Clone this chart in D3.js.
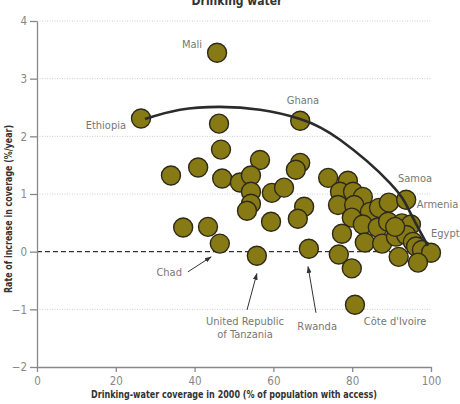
<!DOCTYPE html>
<html>
<head>
<meta charset="utf-8">
<script src="https://cdn.jsdelivr.net/npm/d3@7"></script>
<style>
  body { margin: 0; background: #fff; }
  svg text { font-family: "DejaVu Sans", sans-serif; font-stretch: condensed; }
</style>
</head>
<body>
<svg id="chart"></svg>
<script>
// coverage in 2000 (%) and rate of increase (%/year)
let coverage = [45.7, 26.4, 46.2, 46.7, 34.0, 40.9, 47.0, 46.4, 37.1, 43.4,
    56.6, 51.5, 54.3, 54.3, 54.3, 53.3, 59.4, 59.6, 62.7, 66.8,
    66.8, 65.7, 67.8, 66.2, 55.8, 69.0, 73.9, 78.9, 76.9, 80.2,
    82.7, 76.4, 80.5, 84.5, 86.8, 89.3, 93.7, 79.9, 82.7, 86.5,
    89.1, 92.6, 94.9, 77.4, 83.2, 87.6, 91.1, 93.7, 95.4, 96.2,
    97.7, 100.0, 91.8, 96.7, 76.6, 79.9, 80.7, 90.9];
let rateIncrease = [3.45, 2.31, 2.22, 1.77, 1.32, 1.46, 1.27, 0.14, 0.42, 0.43,
    1.59, 1.20, 1.32, 1.04, 0.83, 0.71, 0.52, 1.02, 1.11, 2.27,
    1.54, 1.42, 0.78, 0.57, -0.07, 0.05, 1.28, 1.23, 1.04, 1.04,
    0.95, 0.81, 0.81, 0.69, 0.76, 0.85, 0.90, 0.59, 0.47, 0.42,
    0.52, 0.49, 0.47, 0.31, 0.16, 0.14, 0.26, 0.29, 0.17, 0.09,
    0.03, -0.02, -0.09, -0.19, -0.05, -0.29, -0.92, 0.43];

// trend curve drawn over the points
let trendX = [27.4, 36.3, 46.4, 56.6, 66.8, 76.9, 89.6, 94.7, 99.2];
let trendY = [2.30, 2.46, 2.51, 2.46, 2.30, 1.94, 1.19, 0.68, 0.10];

let xTicks = [0, 20, 40, 60, 80, 100];
let yTicks = [-2, -1, 0, 1, 2, 3, 4];
let gridTicks = [-1, 1, 2, 3, 4];

// country labels: [text, x, y, anchor]
let labels = [
    ["Mali", 41.9, 3.54, "end"],
    ["Ethiopia", 22.6, 2.13, "end"],
    ["Ghana", 67.5, 2.56, "middle"],
    ["Samoa", 91.6, 1.20, "start"],
    ["Armenia", 96.4, 0.76, "start"],
    ["Egypt", 100.0, 0.26, "start"],
    ["Chad", 36.8, -0.43, "end"],
    ["United Republic", 52.8, -1.28, "middle"],
    ["of Tanzania", 52.8, -1.49, "middle"],
    ["Rwanda", 71.1, -1.35, "middle"],
    ["Côte d'Ivoire", 90.9, -1.27, "middle"]
];
// arrows: from [x, y] to [x, y]
let arrows = [
    [[38.3, -0.35], [44.2, -0.09]],
    [[53.3, -1.01], [55.8, -0.38]],
    [[70.8, -1.06], [68.8, -0.26]]
];

function drawChart() {
    let w = 460, h = 404;
    let svg = d3.select("#chart").attr("width", w).attr("height", h);

    let x = d3.scaleLinear().domain([0, 100]).range([37, 431]);
    let y = d3.scaleLinear().domain([-2, 4]).range([367, 21]);

    svg.append("defs").append("marker")
        .attr("id", "arrow")
        .attr("viewBox", "0 0 10 10")
        .attr("refX", 9).attr("refY", 5)
        .attr("markerWidth", 7).attr("markerHeight", 7)
        .attr("orient", "auto")
        .append("path")
        .attr("d", "M0,1.5 L10,5 L0,8.5 Z")
        .attr("fill", "#333");

    // dotted grid
    svg.selectAll(".grid")
        .data(gridTicks)
        .enter().append("line")
        .attr("x1", x(0)).attr("x2", x(100))
        .attr("y1", d => y(d)).attr("y2", d => y(d))
        .attr("stroke", "#ccc")
        .attr("stroke-width", 1)
        .attr("stroke-dasharray", "1,1.5");

    // zero line
    svg.append("line")
        .attr("x1", x(0)).attr("x2", x(100))
        .attr("y1", y(0)).attr("y2", y(0))
        .attr("stroke", "#333")
        .attr("stroke-width", 1.3)
        .attr("stroke-dasharray", "5,3");

    // axes
    let fmt = d3.format("d");
    let yAxis = svg.append("g")
        .attr("transform", `translate(${x(0)},0)`)
        .call(d3.axisLeft(y).tickValues(yTicks).tickFormat(fmt)
            .tickSize(7).tickSizeOuter(0).tickPadding(3));
    let xAxis = svg.append("g")
        .attr("transform", `translate(0,${y(-2)})`)
        .call(d3.axisBottom(x).tickValues(xTicks).tickFormat(fmt)
            .tickSize(5).tickSizeOuter(0).tickPadding(5));
    [xAxis, yAxis].forEach(a => {
        a.selectAll("path, line").attr("stroke", "#888").attr("stroke-width", 1.3);
        a.selectAll("text").attr("fill", "#888").style("font-size", "11.5px");
        a.attr("font-family", null);
    });

    // points
    let points = coverage.map((c, i) => ({ c: c, r: rateIncrease[i] }));
    svg.selectAll("circle.pt")
        .data(points)
        .enter().append("circle")
        .attr("class", "pt")
        .attr("cx", d => x(d.c))
        .attr("cy", d => y(d.r))
        .attr("r", 9.5)
        .attr("fill", "#877a15")
        .attr("stroke", "#2e2a18")
        .attr("stroke-width", 1.4);

    // trend curve
    let line = d3.line()
        .x(d => x(d[0])).y(d => y(d[1]))
        .curve(d3.curveNatural);
    svg.append("path")
        .datum(trendX.map((v, i) => [v, trendY[i]]))
        .attr("d", line)
        .attr("fill", "none")
        .attr("stroke", "#2b2b2b")
        .attr("stroke-width", 2.6);

    // arrows
    svg.selectAll(".arr")
        .data(arrows)
        .enter().append("line")
        .attr("x1", d => x(d[0][0])).attr("y1", d => y(d[0][1]))
        .attr("x2", d => x(d[1][0])).attr("y2", d => y(d[1][1]))
        .attr("stroke", "#333")
        .attr("stroke-width", 1)
        .attr("marker-end", "url(#arrow)");

    svg.selectAll(".lbl")
        .data(labels)
        .enter().append("text")
        .attr("x", d => x(d[1]))
        .attr("y", d => y(d[2]))
        .style("text-anchor", d => d[3])
        .style("font-size", "11px")
        .attr("fill", "#777")
        .text(d => d[0]);

    // titles
    svg.append("text")
        .attr("x", 237).attr("y", 5)
        .style("text-anchor", "middle")
        .style("font-size", "12px")
        .style("font-weight", "bold")
        .attr("fill", "#333")
        .text("Drinking water");

    svg.append("text")
        .attr("x", 234).attr("y", 398)
        .style("text-anchor", "middle")
        .style("font-size", "11px")
        .style("font-weight", "bold")
        .attr("fill", "#333")
        .attr("textLength", 286)
        .attr("lengthAdjust", "spacingAndGlyphs")
        .text("Drinking-water coverage in 2000 (% of population with access)");

    svg.append("text")
        .attr("transform", "translate(12,209) rotate(-90)")
        .style("text-anchor", "middle")
        .style("font-size", "11px")
        .style("font-weight", "bold")
        .attr("fill", "#333")
        .attr("textLength", 168)
        .attr("lengthAdjust", "spacingAndGlyphs")
        .text("Rate of increase in coverage (%/year)");
}

window.onload = function() {
    drawChart();
}
</script>
</body>
</html>
